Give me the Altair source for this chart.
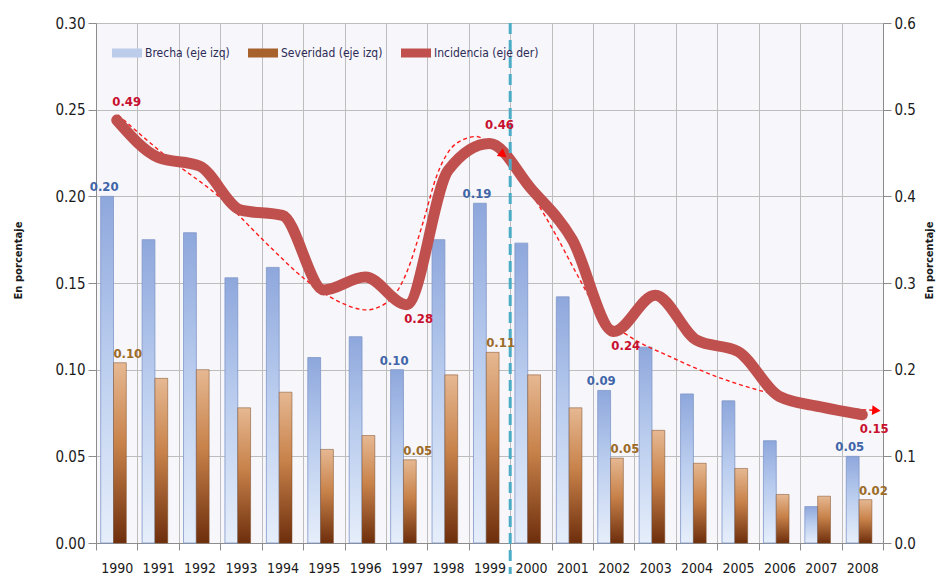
import altair as alt
import pandas as pd

# ---------------- data ----------------
years = [str(y) for y in range(1990, 2009)]
series_names = ["Brecha (eje izq)", "Severidad (eje izq)", "Incidencia (eje der)"]

brecha = [0.200, 0.175, 0.179, 0.153, 0.159, 0.107, 0.119, 0.100, 0.175, 0.196,
          0.173, 0.142, 0.088, 0.113, 0.086, 0.082, 0.059, 0.021, 0.050]
severidad = [0.104, 0.095, 0.100, 0.078, 0.087, 0.054, 0.062, 0.048, 0.097, 0.110,
             0.097, 0.078, 0.049, 0.065, 0.046, 0.043, 0.028, 0.027, 0.025]
incidencia = [0.488, 0.445, 0.435, 0.384, 0.378, 0.292, 0.307, 0.275, 0.430, 0.461,
              0.409, 0.350, 0.244, 0.286, 0.234, 0.221, 0.169, 0.157, 0.148]

brecha_labels = {"1990": "0.20", "1997": "0.10", "1999": "0.19", "2002": "0.09", "2008": "0.05"}
severidad_labels = {"1990": "0.10", "1997": "0.05", "1999": "0.11", "2002": "0.05", "2008": "0.02"}
incidencia_labels = {"1990": "0.49", "1997": "0.28", "1999": "0.46", "2002": "0.24", "2008": "0.15"}

# dashed trend curves (x in year units)
trend1_x = [1990.03, 1991.2, 1992.56, 1993.61, 1994.58, 1995.3, 1996.03, 1996.59,
            1996.99, 1997.39, 1997.72, 1998.2, 1998.68, 1999.08, 1999.33]
trend1_y = [0.494, 0.446, 0.396, 0.346, 0.303, 0.280, 0.269, 0.280,
            0.311, 0.369, 0.423, 0.461, 0.469, 0.457, 0.448]
trend2_x = [1999.53, 2000.05, 2000.62, 2001.1, 2001.66, 2002.39, 2003.36, 2004.48,
            2005.6, 2006.73, 2007.7, 2008.34]
trend2_y = [0.434, 0.400, 0.354, 0.311, 0.265, 0.238, 0.215, 0.192,
            0.175, 0.163, 0.155, 0.153]

divider_year = "1999"

# ---------------- tables ----------------
bars_df = pd.DataFrame(
    [{"year": y, "series": series_names[0], "value": v, "label": brecha_labels.get(y, "")}
     for y, v in zip(years, brecha)]
    + [{"year": y, "series": series_names[1], "value": v, "label": severidad_labels.get(y, "")}
       for y, v in zip(years, severidad)]
)
line_df = pd.DataFrame({"year": years, "value": incidencia,
                        "label": [incidencia_labels.get(y, "") for y in years]})
trend_df = pd.DataFrame(
    [{"seg": 1, "pos": x, "value": v} for x, v in zip(trend1_x, trend1_y)]
    + [{"seg": 2, "pos": x, "value": v} for x, v in zip(trend2_x, trend2_y)]
)
arrow_df = pd.DataFrame([
    {"seg": 1, "pos": trend1_x[-1], "value": trend1_y[-1]},
    {"seg": 2, "pos": trend2_x[-1], "value": trend2_y[-1]},
])
legend_df = pd.DataFrame({"series": series_names})
divider_df = pd.DataFrame({"year": [divider_year]})

# ---------------- styling ----------------
W, H = 787, 520
FONT = "Tahoma, 'DejaVu Sans Condensed', 'DejaVu Sans', sans-serif"
GRID = "#BDBDBD"
AXC = "#8C8C8C"

xscale = alt.Scale(domain=years, paddingInner=0, paddingOuter=0)
offscale = alt.Scale(domain=series_names[:2], range=[-3, 38], paddingInner=0.0, paddingOuter=0.6)
yl_scale = alt.Scale(domain=[0, 0.3], nice=False, zero=True)
yr_scale = alt.Scale(domain=[0, 0.6], nice=False, zero=True)

x_axis = alt.Axis(title=None, tickBand="extent", grid=True, gridColor=GRID, labelAngle=0,
                  labelFont=FONT, labelFontSize=14, labelColor="#1A1A1A", labelPadding=11,
                  tickSize=7, tickColor=AXC, domainColor=AXC)
yl_axis = alt.Axis(orient="left", values=[0, 0.05, 0.10, 0.15, 0.20, 0.25, 0.30], format=".2f",
                   grid=True, gridColor=GRID, tickSize=8, tickColor=AXC, domainColor=AXC,
                   labelFont=FONT, labelFontSize=15, labelColor="#1A1A1A", labelPadding=3,
                   title="En porcentaje", titleFont="DejaVu Sans", titleFontSize=10,
                   titleFontWeight="bold", titleColor="#1A1A1A", titleAngle=270,
                   titleX=-78, titleY=237, titleAlign="center", titleBaseline="middle")
yr_axis = alt.Axis(orient="right", values=[0, 0.1, 0.2, 0.3, 0.4, 0.5, 0.6], format=".1f",
                   grid=False, tickSize=8, tickColor=AXC, domainColor=AXC,
                   labelFont=FONT, labelFontSize=15, labelColor="#1A1A1A", labelPadding=3,
                   title="En porcentaje", titleFont="DejaVu Sans", titleFontSize=10,
                   titleFontWeight="bold", titleColor="#1A1A1A", titleAngle=270,
                   titleX=46, titleY=237, titleAlign="center", titleBaseline="middle")

blue_grad = alt.Gradient(gradient="linear", x1=0, y1=0, x2=0, y2=1, stops=[
    alt.GradientStop(color="#8EA7DC", offset=0),
    alt.GradientStop(color="#B9CCEE", offset=0.45),
    alt.GradientStop(color="#E6EEFA", offset=1),
])
brown_grad = alt.Gradient(gradient="linear", x1=0, y1=0, x2=0, y2=1, stops=[
    alt.GradientStop(color="#E6B892", offset=0),
    alt.GradientStop(color="#C8824A", offset=0.45),
    alt.GradientStop(color="#6E2E0C", offset=1),
])

base_bars = alt.Chart(bars_df)

blue_bars = base_bars.transform_filter(alt.datum.series == series_names[0]).mark_bar(
    color=blue_grad, stroke="#7F97C8", strokeWidth=0.8
).encode(
    x=alt.X("year:N", scale=xscale, axis=x_axis),
    xOffset=alt.XOffset("series:N", scale=offscale),
    y=alt.Y("value:Q", scale=yl_scale, axis=yl_axis),
)
brown_bars = base_bars.transform_filter(alt.datum.series == series_names[1]).mark_bar(
    color=brown_grad, stroke="#7A4A25", strokeWidth=0.5
).encode(
    x=alt.X("year:N", scale=xscale, axis=None),
    xOffset=alt.XOffset("series:N", scale=offscale),
    y=alt.Y("value:Q", scale=yl_scale, axis=None),
)

blue_text = base_bars.transform_filter(
    (alt.datum.series == series_names[0]) & (alt.datum.label != "")
).mark_text(font=FONT, fontSize=13, fontWeight="bold", color="#4065A8", dy=-9, baseline="middle").encode(
    x=alt.X("year:N", scale=xscale, axis=None),
    xOffset=alt.XOffset("series:N", scale=offscale),
    y=alt.Y("value:Q", scale=yl_scale, axis=None),
    text="label:N",
)
brown_text = base_bars.transform_filter(
    (alt.datum.series == series_names[1]) & (alt.datum.label != "")
).mark_text(font=FONT, fontSize=13, fontWeight="bold", color="#9C6B28", dy=-9, dx=5, baseline="middle").encode(
    x=alt.X("year:N", scale=xscale, axis=None),
    xOffset=alt.XOffset("series:N", scale=offscale),
    y=alt.Y("value:Q", scale=yl_scale, axis=None),
    text="label:N",
)

trend_x = alt.X("pos:Q", scale=alt.Scale(domain=[1989.5, 2008.5], nice=False, zero=False), axis=None)
trend = alt.Chart(trend_df).mark_line(
    color="#FF1A1A", strokeWidth=1.4, strokeDash=[4, 3], interpolate="monotone"
).encode(
    x=trend_x,
    y=alt.Y("value:Q", scale=yr_scale, axis=None),
    detail="seg:N",
)
arrows = alt.Chart(arrow_df).mark_point(
    shape="triangle-right", filled=True, color="#FF0000", size=95, opacity=1
).encode(
    x=trend_x,
    y=alt.Y("value:Q", scale=yr_scale, axis=None),
    angle=alt.Angle("seg:N", scale=alt.Scale(domain=[1, 2], range=[38, 4]), legend=None),
)

line = alt.Chart(line_df).mark_line(
    color="#C0504D", strokeWidth=11, interpolate="monotone", strokeCap="round", strokeJoin="round"
).encode(
    x=alt.X("year:N", scale=xscale, axis=None),
    y=alt.Y("value:Q", scale=yr_scale, axis=yr_axis),
)

above = ["1990", "1999"]
red_base = alt.Chart(line_df).transform_filter(alt.datum.label != "")
red_above = red_base.transform_filter(alt.FieldOneOfPredicate(field="year", oneOf=above)).mark_text(
    font=FONT, fontSize=13, fontWeight="bold", color="#C8102E", dx=10, dy=-18, baseline="middle"
).encode(
    x=alt.X("year:N", scale=xscale, axis=None),
    y=alt.Y("value:Q", scale=yr_scale, axis=None),
    text="label:N",
)
red_below = red_base.transform_filter(
    ~alt.FieldOneOfPredicate(field="year", oneOf=above)
).mark_text(
    font=FONT, fontSize=13, fontWeight="bold", color="#C8102E", dx=12, dy=14, baseline="middle"
).encode(
    x=alt.X("year:N", scale=xscale, axis=None),
    y=alt.Y("value:Q", scale=yr_scale, axis=None),
    text="label:N",
)

divider = alt.Chart(divider_df).mark_rule(
    color="#4BACC6", strokeWidth=3, strokeDash=[11, 6]
).encode(
    x=alt.X("year:N", scale=xscale, axis=None, bandPosition=1),
    y=alt.value(0),
    y2=alt.value(H + 40),
)

legend_layer = alt.Chart(legend_df).mark_square(opacity=0, size=1).encode(
    x=alt.value(0),
    y=alt.value(0),
    color=alt.Color("series:N", scale=alt.Scale(domain=series_names,
                                                range=["#BCCDEB", "#A6612C", "#C0504D"]),
                    legend=alt.Legend(
                        title=None, orient="none", legendX=16, legendY=15, direction="horizontal",
                        symbolType="M-1,-0.3H1V0.3H-1Z", symbolSize=900, symbolOpacity=1,
                        symbolStrokeWidth=0, labelFont=FONT, labelFontSize=12,
                        labelColor="#2B2B55", labelOffset=3, columnPadding=18,
                    )),
)

chart = alt.layer(
    blue_bars, brown_bars, trend, line, arrows, divider,
    blue_text, brown_text, red_above, red_below, legend_layer
).resolve_scale(
    x="independent", y="independent", xOffset="independent", color="independent"
).properties(
    width=W, height=H,
    autosize=alt.AutoSizeParams(type="none"),
    padding={"left": 88, "top": 15, "right": 53, "bottom": 31},
    background="white",
).configure_view(fill="#F7F6FB", stroke=None)

chart.save("out.html", embed_options={"renderer": "svg", "actions": False})
